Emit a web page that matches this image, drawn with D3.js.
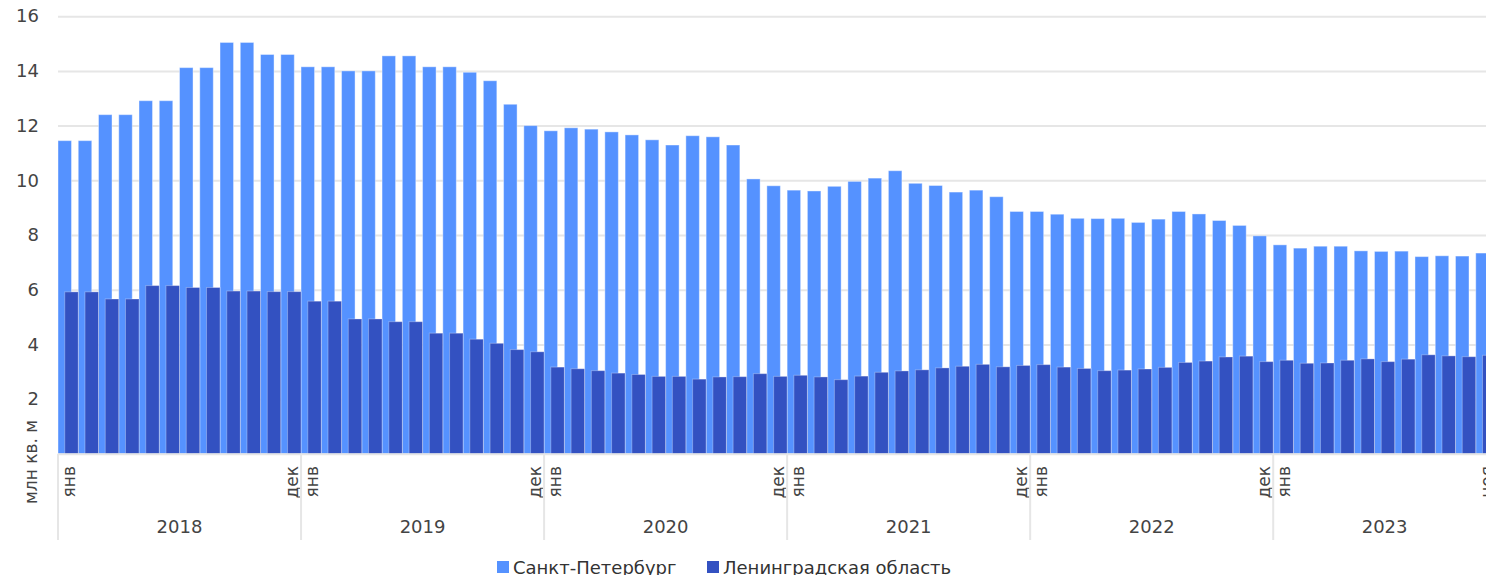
<!DOCTYPE html>
<html>
<head>
<meta charset="utf-8">
<script src="https://cdn.jsdelivr.net/npm/d3@7"></script>
<style>
  html, body { margin: 0; padding: 0; background: #fff; overflow: hidden; }
  svg { display: block; font-family: "DejaVu Sans", Verdana, sans-serif; }
</style>
</head>
<body>
<svg id="chart" width="1486" height="575"></svg>
<script>
// data
var years = [2018, 2019, 2020, 2021, 2022, 2023];
var monthNames = ["янв", "фев", "мар", "апр", "май", "июн", "июл", "авг", "сен", "окт", "ноя", "дек"];
var seriesNames = ["Санкт-Петербург", "Ленинградская область"];
var yTicks = [2, 4, 6, 8, 10, 12, 14, 16];

var spb = [
  11.45, 11.45, 12.4, 12.4, 12.91, 12.91, 14.12, 14.12, 15.04, 15.04, 14.6, 14.6,
  14.15, 14.15, 14.0, 14.0, 14.55, 14.55, 14.15, 14.15, 13.95, 13.64, 12.78, 12.0,
  11.81, 11.92, 11.87, 11.77, 11.66, 11.48, 11.29, 11.63, 11.59, 11.29, 10.05, 9.8,
  9.64, 9.61, 9.78, 9.96, 10.08, 10.35, 9.89, 9.81, 9.57, 9.64, 9.4, 8.86,
  8.86, 8.76, 8.61, 8.6, 8.61, 8.46, 8.58, 8.86, 8.77, 8.53, 8.35, 7.97,
  7.64, 7.52, 7.59, 7.59, 7.42, 7.4, 7.41, 7.21, 7.24, 7.23, 7.34
];
var lenobl = [
  5.92, 5.92, 5.66, 5.66, 6.15, 6.15, 6.08, 6.08, 5.95, 5.95, 5.93, 5.93,
  5.58, 5.58, 4.93, 4.93, 4.83, 4.83, 4.41, 4.41, 4.19, 4.04, 3.81, 3.73,
  3.17, 3.11, 3.04, 2.95, 2.9, 2.83, 2.83, 2.73, 2.81, 2.82, 2.93, 2.83,
  2.87, 2.81, 2.71, 2.84, 2.98, 3.03, 3.07, 3.14, 3.2, 3.27, 3.18, 3.23,
  3.26, 3.17, 3.12, 3.04, 3.06, 3.1, 3.16, 3.34, 3.39, 3.54, 3.57, 3.37,
  3.42, 3.31, 3.32, 3.42, 3.47, 3.37, 3.46, 3.62, 3.58, 3.55, 3.6
];

var colors = ["#5592ff", "#3351c1"];
var gridColor = "#e6e6e6";
var textColor = "#444";

var svg = d3.select("#chart");
var plot = { left: 58, right: 1496, top: 16.2, bottom: 453.8 };

// one entry per month
var months = spb.map(function(v, i) {
  return { i: i, year: years[Math.floor(i / 12)], month: i % 12, spb: v, lo: lenobl[i] };
});

var xScale = d3.scaleBand()
               .domain(months.map(function(d) { return d.i; }))
               .range([plot.left, plot.right])
               .padding(0);
var bw = xScale.bandwidth();

var yScale = d3.scaleLinear()
               .domain([0, 16])
               .range([plot.bottom, plot.top]);

// gridlines + y labels
var yAxis = d3.axisLeft(yScale)
              .tickValues(yTicks)
              .tickSize(-(plot.right - plot.left))
              .tickPadding(19);
var gy = svg.append("g")
            .attr("transform", "translate(" + plot.left + ",0)")
            .call(yAxis);
gy.select(".domain").remove();
gy.selectAll("line").attr("stroke", gridColor).attr("stroke-width", 2);
gy.selectAll("text")
  .style("font-size", "18px")
  .style("font-family", "DejaVu Sans, Verdana, sans-serif")
  .attr("fill", textColor);

// bars, light series first, dark one shifted by a third of a band
var barW = bw * 2 / 3;
svg.append("g").selectAll("rect")
   .data(months)
   .enter().append("rect")
   .attr("x", function(d) { return xScale(d.i); })
   .attr("y", function(d) { return yScale(d.spb); })
   .attr("width", barW)
   .attr("height", function(d) { return yScale(0) - yScale(d.spb); })
   .attr("fill", colors[0])
   .attr("stroke", "#fff")
   .attr("stroke-opacity", 0.4)
   .attr("stroke-width", 1);

svg.append("g").selectAll("rect")
   .data(months)
   .enter().append("rect")
   .attr("x", function(d) { return xScale(d.i) + bw / 3; })
   .attr("y", function(d) { return yScale(d.lo); })
   .attr("width", barW)
   .attr("height", function(d) { return yScale(0) - yScale(d.lo); })
   .attr("fill", colors[1])
   .attr("stroke", "#fff")
   .attr("stroke-opacity", 0.3)
   .attr("stroke-width", 1);

// x axis line
svg.append("line")
   .attr("x1", plot.left).attr("x2", plot.right)
   .attr("y1", plot.bottom + 0.5).attr("y2", plot.bottom + 0.5)
   .attr("stroke", gridColor)
   .attr("stroke-width", 2);

// year groups: separators, year text, first/last month labels
years.forEach(function(yr) {
  var ym = months.filter(function(d) { return d.year === yr; });
  var first = ym[0], last = ym[ym.length - 1];
  var x0 = xScale(first.i), x1 = xScale(last.i) + bw;

  svg.append("line")
     .attr("x1", x0).attr("x2", x0)
     .attr("y1", plot.bottom).attr("y2", 540)
     .attr("stroke", gridColor)
     .attr("stroke-width", 2);

  svg.append("text")
     .attr("x", (x0 + x1) / 2)
     .attr("y", 533)
     .attr("text-anchor", "middle")
     .style("font-size", "18px")
     .attr("fill", textColor)
     .text(yr);

  [first, last].forEach(function(d) {
    var cx = xScale(d.i) + bw / 2 + 7;
    svg.append("text")
       .attr("transform", "translate(" + cx + ",466) rotate(-90)")
       .attr("text-anchor", "end")
       .style("font-size", "17px")
       .attr("fill", textColor)
       .text(monthNames[d.month]);
  });
});

// y axis title
svg.append("text")
   .attr("transform", "translate(37,462) rotate(-90)")
   .attr("text-anchor", "middle")
   .style("font-size", "17px")
   .attr("fill", textColor)
   .text("млн кв. м");

// legend
var legendX = [497, 707];
seriesNames.forEach(function(name, i) {
  svg.append("rect")
     .attr("x", legendX[i]).attr("y", 561)
     .attr("width", 12).attr("height", 12)
     .attr("fill", colors[i]);
  svg.append("text")
     .attr("x", legendX[i] + 16)
     .attr("y", 574)
     .style("font-size", "18px")
     .attr("fill", "#333")
     .text(name);
});
</script>
</body>
</html>
